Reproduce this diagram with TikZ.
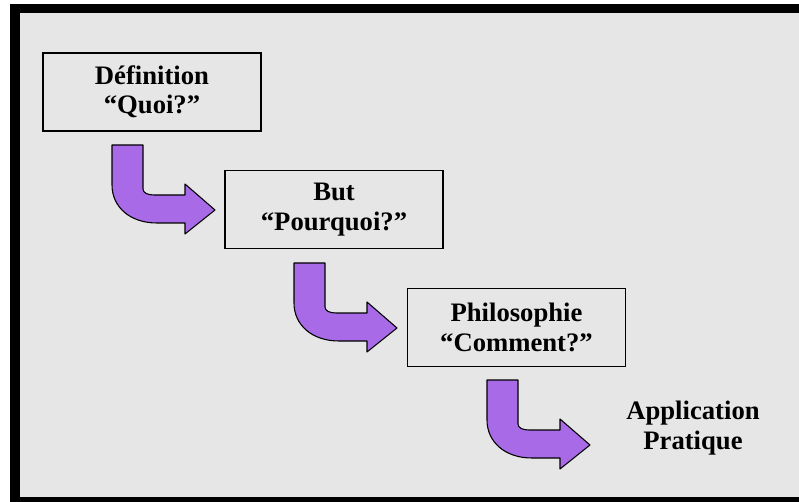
\documentclass[tikz,border=0pt]{standalone}
\usepackage{fontspec}
\setmainfont{Liberation Serif}
\definecolor{bggray}{RGB}{230,230,230}
\definecolor{arrowpurple}{RGB}{168,106,230}
\begin{document}
\begin{tikzpicture}[x=0.75pt,y=-0.75pt,
  stepbox/.style={draw=black,line width=1.3pt,fill=bggray,minimum width=163.5pt,minimum height=58.5pt,align=center,inner sep=0pt,
    font=\bfseries\fontsize{20}{22}\selectfont},
  plaintext/.style={align=center,inner sep=0pt,font=\bfseries\fontsize{20}{22}\selectfont},
  bentarrow/.style={fill=arrowpurple,draw=black,line width=0.8pt,line join=round}]
\useasboundingbox (0,0) rectangle (799,502);
\fill[white] (0,0) rectangle (799,502);
\fill[black] (10,4) rectangle (799,502);
\fill[bggray] (20,13) rectangle (799,497);
\node[stepbox] (def) at (152,92) {Définition\\“Quoi?”};
\node[stepbox] (but) at (334,209.5) {But\\“Pourquoi?”};
\node[stepbox] (phi) at (516.5,327.5) {Philosophie\\“Comment?”};
\node[plaintext] (app) at (693,428) {Application\\Pratique};
\foreach \x/\y in {112/145, 294/263, 487/380}{
  \draw[bentarrow,shift={(\x,\y)}] (0,0) -- (31,0) -- (31,44) .. controls (31,48) and (36,50) .. (42,50) -- (73,50) -- (73,39) -- (103,65) -- (73,89) -- (73,78) -- (45,78) .. controls (18,78) and (0,62) .. (0,40) -- cycle;
}
\end{tikzpicture}
\end{document}
